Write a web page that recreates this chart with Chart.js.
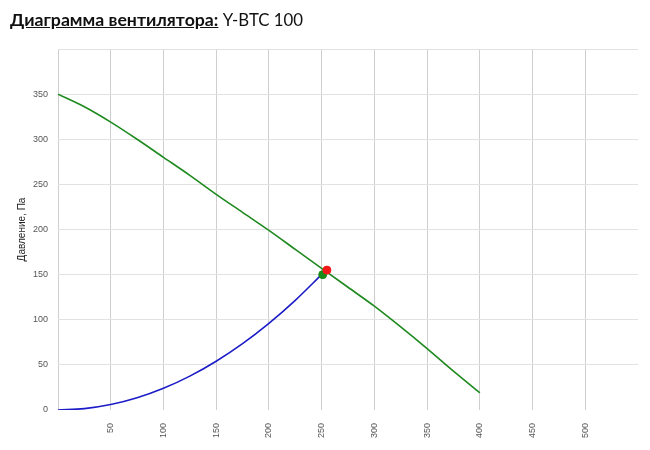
<!DOCTYPE html>
<html>
<head>
<meta charset="utf-8">
<script src="https://cdn.jsdelivr.net/npm/chart.js@4"></script>
<style>
  html, body { margin: 0; padding: 0; background: #fff; }
  #wrap { position: relative; width: 650px; height: 450px; }
  #title {
    position: absolute; left: 10px; top: 9px;
    font-family: Lato, 'Liberation Sans', sans-serif; font-size: 16.8px; color: #111;
  }
  #title b { text-decoration: underline; font-size: 17.7px; }
</style>
</head>
<body>
<div id="wrap">
  <canvas id="chart" width="650" height="450"></canvas>
  <div id="title"><b>Диаграмма вентилятора:</b> Y-BTC 100</div>
</div>
<script>
// fan curve (green)
const fanFlow = [0, 25, 50, 75, 100, 125, 150, 175, 200, 225, 250, 275, 300, 325, 350, 375, 400];
const fanPressure = [350, 336, 319, 300, 280, 260, 239, 219, 199, 178, 157, 136, 115, 92, 68, 43, 19];

// system curve (blue)
const sysFlow = [0, 25, 50, 75, 100, 125, 150, 175, 200, 225, 250];
const sysPressure = [0, 1.5, 6, 13.5, 24, 37.5, 54, 73.5, 96, 121.5, 150];

// working points
const workPoint = [{ x: 251, y: 150 }];
const fanPoint = [{ x: 255, y: 155 }];

const yTitle = 'Давление, Па';

const toXY = (xs, ys) => xs.map((x, i) => ({ x: x, y: ys[i] }));

new Chart(document.getElementById('chart'), {
  type: 'scatter',
  data: {
    datasets: [
      {
        type: 'scatter',
        data: fanPoint,
        backgroundColor: '#f01818',
        borderColor: '#f01818',
        pointRadius: 4,
        order: 0
      },
      {
        type: 'scatter',
        data: workPoint,
        backgroundColor: '#178a17',
        borderColor: '#178a17',
        pointRadius: 4,
        order: 1
      },
      {
        type: 'line',
        data: toXY(fanFlow, fanPressure),
        borderColor: '#1f8a1f',
        borderWidth: 1.6,
        pointRadius: 0,
        cubicInterpolationMode: 'monotone',
        fill: false,
        order: 2
      },
      {
        type: 'line',
        data: toXY(sysFlow, sysPressure),
        borderColor: '#1c1cc8',
        borderWidth: 1.6,
        pointRadius: 0,
        cubicInterpolationMode: 'monotone',
        fill: false,
        order: 3
      }
    ]
  },
  options: {
    responsive: false,
    animation: false,
    layout: { padding: { top: 49, right: 12, left: 0, bottom: 0 } },
    scales: {
      x: {
        type: 'linear',
        min: 0,
        max: 550,
        border: { display: false },
        grid: {
          drawTicks: false,
          lineWidth: 1,
          color: (c) => (c.tick && c.tick.value === 550 ? 'rgba(0,0,0,0)' : '#cfcfcf')
        },
        ticks: {
          stepSize: 50,
          autoSkip: false,
          maxRotation: 90,
          minRotation: 90,
          padding: 13,
          color: '#555',
          font: { family: 'Liberation Sans, Arial', size: 9 },
          callback: (v) => (v === 0 || v === 550 ? '' : v)
        },
        afterFit: (scale) => {
          scale.height = 40;
          // the rotated labels would otherwise shrink the plot on the right
          scale.paddingLeft = 0;
          scale.paddingRight = 0;
        }
      },
      y: {
        min: 0,
        max: 400,
        border: { display: false },
        grid: {
          drawTicks: false,
          lineWidth: 1,
          color: (c) => (c.tick && c.tick.value === 0 ? 'rgba(0,0,0,0)' : '#e2e2e2')
        },
        ticks: {
          stepSize: 50,
          padding: 10,
          color: '#555',
          font: { family: 'Liberation Sans, Arial', size: 9 },
          callback: (v) => (v === 400 ? '' : v)
        },
        title: {
          display: true,
          text: yTitle,
          color: '#222',
          font: { family: 'Liberation Sans, Arial', size: 10 },
          padding: { top: 16, bottom: 0 }
        },
        afterFit: (scale) => { scale.width = 58; }
      }
    },
    plugins: {
      legend: { display: false },
      tooltip: { enabled: false }
    }
  }
});
</script>
</body>
</html>
